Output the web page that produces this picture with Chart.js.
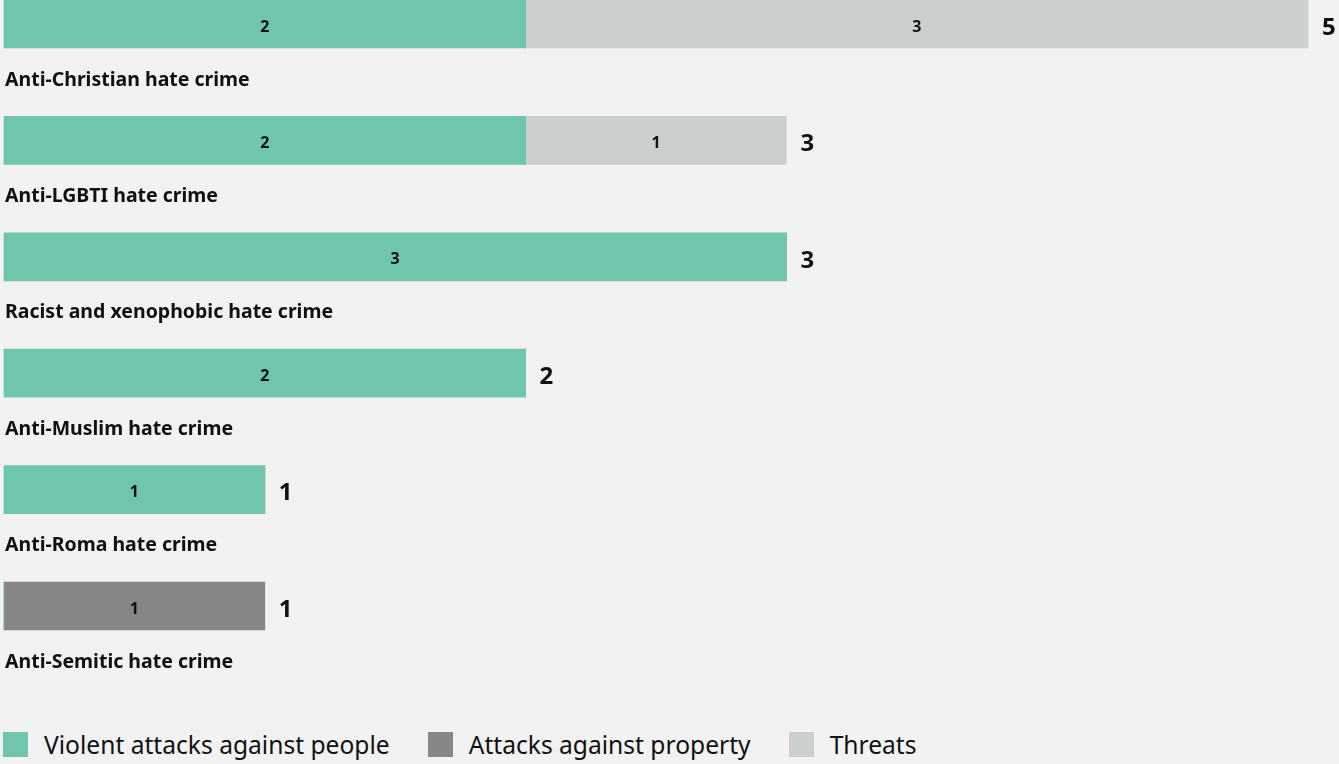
<!DOCTYPE html>
<html>
<head>
<meta charset="utf-8">
<script src="https://cdn.jsdelivr.net/npm/chart.js@4/dist/chart.umd.min.js"></script>
<style>
  html, body { margin: 0; padding: 0; background: #f2f2f2; }
  body { width: 1339px; height: 764px; overflow: hidden; font-family: "Noto Sans", sans-serif; }
  #wrap { position: relative; width: 1339px; height: 700px; }
  #legend { height: 64px; display: flex; align-items: center; padding-left: 3px; padding-top: 24px; box-sizing: border-box; }
  .item { display: flex; align-items: center; margin-right: 38px; font-size: 24.6px; color: #111; }
  .sw { width: 25px; height: 25px; margin-right: 16px; }
</style>
</head>
<body>
<div id="wrap"><canvas id="chart"></canvas></div>
<div id="legend"></div>
<script>
// kategoriler ve seriler
const categories = [
  'Anti-Christian hate crime',
  'Anti-LGBTI hate crime',
  'Racist and xenophobic hate crime',
  'Anti-Muslim hate crime',
  'Anti-Roma hate crime',
  'Anti-Semitic hate crime'
];
const violentAttacks = [2, 2, 3, 2, 1, 0];
const propertyAttacks = [0, 0, 0, 0, 0, 1];
const threats = [3, 1, 0, 0, 0, 0];

const seriesNames = ['Violent attacks against people', 'Attacks against property', 'Threats'];
const colors = ['#70c5ad', '#868686', '#cbd0cf'];

// toplamlar
const totals = categories.map((c, i) => violentAttacks[i] + propertyAttacks[i] + threats[i]);

// etiketleri çizen eklenti
const labelPlugin = {
  id: 'labels',
  afterDatasetsDraw(chart) {
    const ctx = chart.ctx;
    const xs = chart.scales.x;
    ctx.save();
    ctx.fillStyle = '#111';
    ctx.textBaseline = 'middle';

    // segment değerleri
    ctx.font = 'bold 16px "Noto Sans"';
    ctx.textAlign = 'center';
    chart.data.datasets.forEach((ds, di) => {
      chart.getDatasetMeta(di).data.forEach((bar, i) => {
        if (!ds.data[i]) return;
        const left = Math.min(bar.x, bar.base);
        const right = Math.max(bar.x, bar.base);
        ctx.fillText(ds.data[i], (left + right) / 2, bar.y + 3);
      });
    });

    // toplam ve kategori adları
    const yMeta = chart.getDatasetMeta(0).data;
    totals.forEach((t, i) => {
      const y = yMeta[i].y;
      ctx.font = 'bold 24px "Noto Sans"';
      ctx.textAlign = 'left';
      ctx.fillText(t, xs.getPixelForValue(t) + 14, y + 4);
      ctx.font = 'bold 19.5px "Noto Sans"';
      ctx.fillText(categories[i], 5, y + 56);
    });
    ctx.restore();
  }
};

new Chart(document.getElementById('chart'), {
  type: 'bar',
  data: {
    labels: categories,
    datasets: [
      { label: seriesNames[0], data: violentAttacks, backgroundColor: colors[0] },
      { label: seriesNames[1], data: propertyAttacks, backgroundColor: colors[1] },
      { label: seriesNames[2], data: threats, backgroundColor: colors[2] }
    ]
  },
  options: {
    indexAxis: 'y',
    responsive: true,
    maintainAspectRatio: false,
    animation: false,
    layout: { padding: { left: 4, right: 31, top: 24, bottom: 94 } },
    datasets: { bar: { barThickness: 48, clip: false, borderWidth: 0 } },
    scales: {
      x: { stacked: true, min: 0, max: 5, display: false },
      y: { stacked: true, display: false, offset: false }
    },
    plugins: {
      legend: { display: false },
      tooltip: { enabled: false }
    }
  },
  plugins: [labelPlugin]
});

// HTML lejant
const legend = document.getElementById('legend');
seriesNames.forEach((name, i) => {
  legend.innerHTML += `<div class="item"><span class="sw" style="background:${colors[i]}"></span>${name}</div>`;
});
</script>
</body>
</html>
